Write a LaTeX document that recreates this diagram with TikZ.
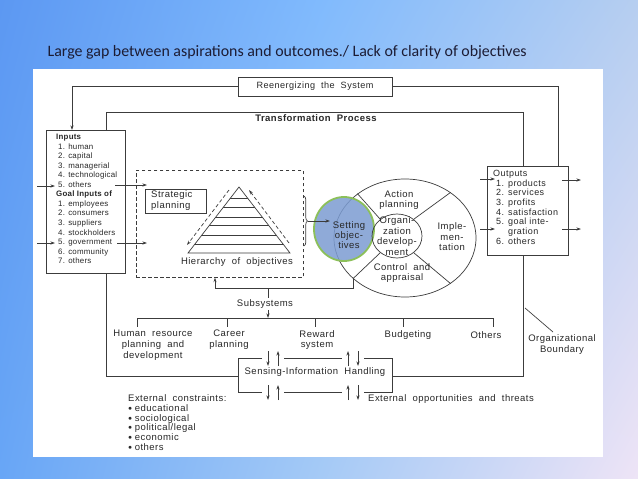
\documentclass[tikz,border=0pt]{standalone}
\usepackage{fontspec}
\setmainfont{Liberation Sans}
\newfontfamily\dfont[LetterSpace=5]{Liberation Sans}
\newfontfamily\lfont[LetterSpace=3]{Liberation Sans}
\newfontfamily\tfont{Carlito}
\usetikzlibrary{arrows.meta,shapes.geometric,decorations.pathreplacing,shadings}
\definecolor{bgA}{RGB}{92,152,242}
\definecolor{bgB}{RGB}{128,186,253}
\definecolor{bgE}{RGB}{182,206,240}
\definecolor{bgC}{RGB}{104,166,246}
\definecolor{bgD}{RGB}{165,202,246}
\definecolor{bgF}{RGB}{238,228,246}
\definecolor{lc}{RGB}{60,60,60}
\definecolor{tc}{RGB}{40,40,40}
\definecolor{sob}{RGB}{124,156,210}
\definecolor{sog}{RGB}{140,192,90}
\definecolor{ttl}{RGB}{28,28,52}
\newcommand\mybul{\raisebox{1pt}{\scriptsize$\bullet$}\kern2.5pt}
\tikzset{
 ln/.style={draw=lc, line width=0.7pt},
 arr/.style={ln, -{Stealth[length=4.5pt,width=3pt]}},
 dsh/.style={ln, dash pattern=on 3.5pt off 2.5pt},
 lab/.style={font=\dfont\fontsize{9.5}{10.8}\selectfont, text=tc, inner sep=0pt, align=center},
 lst/.style={font=\lfont\fontsize{7.9}{9.54}\selectfont, text=tc, inner sep=0pt, align=left},
 boxn/.style={ln, fill=white, inner sep=0pt},
}
\begin{document}
\begin{tikzpicture}[x=1pt,y=-1pt]
\useasboundingbox (0,0) rectangle (638,479);
\shade[upper left=bgA, upper right=bgB, lower left=bgC, lower right=bgD] (0,0) rectangle (320,479);
\shade[upper left=bgB, upper right=bgE, lower left=bgD, lower right=bgF] (319.5,0) rectangle (638,479);
\node[anchor=base west, font=\tfont\fontsize{15.9}{18}\selectfont, text=ttl, inner sep=0] (title) at (47.5,56.5) {Large gap between aspirations and outcomes./ Lack of clarity of objectives};
\fill[white] (33,68.5) rectangle (603,457);

% transformation boundary
\node[ln, anchor=north west, minimum width=417, minimum height=264, inner sep=0] (tp) at (106,112) {};
\node[lab, font=\dfont\bfseries\fontsize{9.5}{10.8}\selectfont] (tpt) at (316,118.5) {Transformation\ \ Process};

% reenergizing loop
\node[boxn, lab, font=\dfont\fontsize{9.1}{10.8}\selectfont, minimum width=154, minimum height=19] (reen) at (315,86.5) {Reenergizing\ \ the\ \ System};
\coordinate (loopL) at (72,86.5);
\coordinate (loopR) at (558,86.5);

% inputs
\node[boxn, anchor=north west, minimum width=79, minimum height=143] (inp) at (46,130) {};
\node[lst, anchor=north west] (inpt) at (56,134) {\textbf{Inputs}\\
\kern2pt 1. human\\ \kern2pt 2. capital\\ \kern2pt 3. managerial\\ \kern2pt 4. technological\\ \kern2pt 5. others\\
\textbf{Goal Inputs of}\\
\kern2pt 1. employees\\ \kern2pt 2. consumers\\ \kern2pt 3. suppliers\\ \kern2pt 4. stockholders\\ \kern2pt 5. government\\ \kern2pt 6. community\\ \kern2pt 7. others};

% outputs
\node[boxn, anchor=north west, minimum width=81, minimum height=89] (out) at (487,166) {};
\node[lst, font=\dfont\fontsize{9}{9.7}\selectfont, anchor=north west] (outt) at (493,170) {Outputs\\
\kern3pt 1. products\\ \kern3pt 2. services\\ \kern3pt 3. profits\\ \kern3pt 4. satisfaction\\ \kern3pt 5. goal inte-\\ \kern3pt\phantom{5. }gration\\ \kern3pt 6. others};

\draw[arr] (reen.west) -| (inp.north -| loopL);
\draw[ln] (reen.east) -| (out.north -| loopR);

% arrows at inputs
\coordinate (ia1s) at (37,186); \coordinate (ia1e) at (55,186);
\coordinate (ia2s) at (37,243); \coordinate (ia2e) at (55,243);
\coordinate (io1s) at (115,185); \coordinate (io1e) at (147,185);
\coordinate (io2s) at (117,243); \coordinate (io2e) at (147,243);
\draw[arr] (ia1s) -- (ia1e);
\draw[arr] (ia2s) -- (ia2e);
\draw[arr] (io1s) -- (io1e);
\draw[arr] (io2s) -- (io2e);
% arrows at outputs
\coordinate (oa1s) at (480,179); \coordinate (oa1e) at (495,179);
\coordinate (oa2s) at (480,229); \coordinate (oa2e) at (495,229);
\coordinate (oo1s) at (562,180); \coordinate (oo1e) at (581,180);
\coordinate (oo2s) at (562,229); \coordinate (oo2e) at (581,229);
\draw[arr] (oa1s) -- (oa1e);
\draw[arr] (oa2s) -- (oa2e);
\draw[arr] (oo1s) -- (oo1e);
\draw[arr] (oo2s) -- (oo2e);

% dashed box with planning and pyramid
\node[dsh, anchor=north west, minimum width=167, minimum height=107, inner sep=0] (dash) at (136,170) {};
\node[ln, anchor=north west, minimum width=61, minimum height=24, inner sep=0] (sp) at (145,189) {};
\node[lab, align=left, anchor=west] (spt) at (151,200.5) {Strategic\\planning};
\coordinate (apex) at (239,187);
\coordinate (pbl) at (188,253);
\coordinate (pbr) at (290,253);
\begin{scope}
\clip (apex) -- (pbl) -- (pbr) -- cycle;
\foreach \yy in {198,207,217,225,235,244}
  \draw[ln] (150,\yy) -- (330,\yy);
\end{scope}
\draw[ln, line join=miter] (apex) -- (pbl) -- (pbr) -- cycle;
\coordinate (dl1) at (229,190); \coordinate (dl2) at (187,245);
\coordinate (dr1) at (289,243); \coordinate (dr2) at (249,190);
\draw[dsh, -{Stealth[length=4.5pt,width=3pt]}] (dl1) -- (dl2);
\draw[dsh, -{Stealth[length=4.5pt,width=3pt]}] (dr1) -- (dr2);
\node[lab] (hier) at (237,262) {Hierarchy\ \ of\ \ objectives};

% brace
\coordinate (br1) at (304,196); \coordinate (br2) at (304,246);
\draw[ln, decorate, decoration={brace, amplitude=3.5pt}] (br1) -- (br2);
\coordinate (brt) at (308,221); \coordinate (sot) at (330,221);

% ellipses
\node[ellipse, ln, minimum width=142, minimum height=118, inner sep=0] (big) at (405,238) {};
\node[ellipse, draw=sog, line width=1.8pt, fill=sob, fill opacity=0.85, minimum width=60, minimum height=64, inner sep=0] (so) at (344,229) {};
\draw[arr] (brt) -- (sot);
\node[ellipse, ln, minimum width=50, minimum height=44, inner sep=0] (inner) at (397,236) {};
\draw[ln] (inner.45) -- (big.45);
\draw[ln] (inner.135) -- (big.137);
\draw[ln] (inner.-45) -- (big.-45);
\draw[ln] (inner.-135) -- (big.-142);
\node[lab, font=\dfont\fontsize{9.5}{10}\selectfont] (sotx) at (349,235) {Setting\\objec-\\tives};
\node[lab] (act) at (399,200) {Action\\planning};
\node[lab, font=\dfont\fontsize{9.5}{10.5}\selectfont] (odv) at (397,236) {Organi-\\zation\\develop-\\ment};
\node[lab, font=\dfont\fontsize{9.5}{10.5}\selectfont] (imp) at (452,237) {Imple-\\men-\\tation};
\node[lab] (ctl) at (402,273) {Control\ \ and\\appraisal};

% feedback
\coordinate (fbL) at (215,288);
\coordinate (fbS) at (268,288);
\draw[arr] (big.-142) |- (fbL) -- (fbL |- dash.south);
\coordinate (barL) at (137,318);
\coordinate (barR) at (493,318);
\draw[arr] (fbS) -- (fbS |- barL);
\node[lab, fill=white, inner sep=1.5pt] (subs) at (265,304) {Subsystems};
\draw[ln] (barL) -- (barR);
\foreach \xx in {137,227,315,403,493}
  \draw[ln] (\xx,318) -- (\xx,327);
\node[lab] (hr) at (153,345) {Human\ \ resource\\planning\ \ and\\development};
\node[lab] (car) at (229,339.5) {Career\\planning};
\node[lab] (rew) at (317,340) {Reward\\system};
\node[lab] (bud) at (408,335) {Budgeting};
\node[lab] (oth) at (486,335) {Others};

% sensing box
\node[fill=white, inner sep=0, minimum width=154, minimum height=34] (sens) at (315,375) {};
\draw[ln] (262,358) -- (238,358) -- (238,392) -- (262,392);
\draw[ln] (284,358) -- (342,358);
\draw[ln] (284,392) -- (342,392);
\draw[ln] (364,358) -- (392,358) -- (392,392) -- (364,392);
\node[lab] (senst) at (315,372) {Sensing-Information\ \ Handling};
\draw[arr] (268,351) -- (268,366);
\draw[arr] (278,366) -- (278,351);
\draw[arr] (348,366) -- (348,351);
\draw[arr] (358,351) -- (358,366);
\draw[arr] (268,385) -- (268,400);
\draw[arr] (278,400) -- (278,385);
\draw[arr] (348,400) -- (348,385);
\draw[arr] (358,385) -- (358,400);

% external
\node[lab, align=left, font=\dfont\fontsize{9.5}{9.8}\selectfont, anchor=north west] (ext) at (128,394.5) {External\ \ constraints:\\
\mybul educational\\ \mybul sociological\\ \mybul political/legal\\ \mybul economic\\ \mybul others};
\node[lab, anchor=west] (opp) at (368,399) {External\ \ opportunities\ \ and\ \ threats};

% organizational boundary
\coordinate (ob1) at (525,308); \coordinate (ob2) at (553,332);
\draw[ln] (ob1) -- (ob2);
\node[lab] (obt) at (562,344.5) {Organizational\\Boundary};
\end{tikzpicture}
\end{document}
